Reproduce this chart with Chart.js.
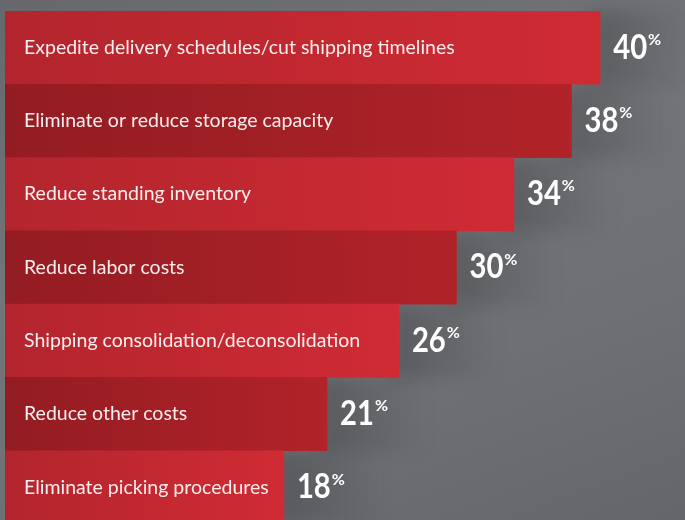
<!DOCTYPE html>
<html>
<head>
<meta charset="utf-8">
<script src="https://cdn.jsdelivr.net/npm/chart.js@4/dist/chart.umd.min.js"></script>
<style>
  html, body { margin: 0; padding: 0; }
  body {
    width: 685px; height: 520px; overflow: hidden;
    background: linear-gradient(160deg, #66686c 0%, #737579 40%, #6e7074 70%, #64666a 100%);
  }
  #wrap { width: 685px; height: 520px; overflow: hidden; position: relative; }
</style>
</head>
<body>
<div id="wrap"><canvas id="chart" width="685" height="535"></canvas></div>
<script>
// ── data ─────────────────────────────────────────────
const categories = [
    'Expedite delivery schedules/cut shipping timelines',
    'Eliminate or reduce storage capacity',
    'Reduce standing inventory',
    'Reduce labor costs',
    'Shipping consolidation/deconsolidation',
    'Reduce other costs',
    'Eliminate picking procedures'
];
const values = [40, 38, 34, 30, 26, 21, 18];

// axis range (bars start at the left edge of the plot)
const AXIS_MIN = -1.4;
const AXIS_MAX = 45.9;

// alternating bar shades: [left, right]
const lightRed = ['#b3252d', '#d02b34'];
const darkRed = ['#931c22', '#b12329'];

function barFill(ctx) {
    const chart = ctx.chart;
    const shade = ctx.dataIndex % 2 === 0 ? lightRed : darkRed;
    if (!chart.chartArea || ctx.raw === undefined) return shade[1];
    const x0 = chart.scales.x.getPixelForValue(AXIS_MIN);
    const x1 = chart.scales.x.getPixelForValue(ctx.raw);
    const g = chart.ctx.createLinearGradient(x0, 0, x1, 0);
    g.addColorStop(0, shade[0]);
    g.addColorStop(1, shade[1]);
    return g;
}

// soft shadow to the right of each bar end
const shadowPlugin = {
    id: 'barShadow',
    beforeDatasetsDraw(chart) {
        const ctx = chart.ctx;
        const meta = chart.getDatasetMeta(0);
        ctx.save();
        ctx.filter = 'blur(9px)';
        meta.data.forEach(bar => {
            const top = bar.y - bar.height / 2;
            const g = ctx.createLinearGradient(bar.x, 0, bar.x + 100, 0);
            g.addColorStop(0, 'rgba(40,40,44,0.28)');
            g.addColorStop(1, 'rgba(40,40,44,0)');
            ctx.fillStyle = g;
            ctx.fillRect(bar.x - 10, top, 110, bar.height);
        });
        ctx.restore();
    }
};

// category text inside bars + value labels outside
const labelPlugin = {
    id: 'barLabels',
    afterDatasetsDraw(chart) {
        const ctx = chart.ctx;
        const meta = chart.getDatasetMeta(0);
        ctx.save();
        ctx.textBaseline = 'middle';
        ctx.textAlign = 'left';
        meta.data.forEach((bar, i) => {
            // category
            ctx.fillStyle = '#fbeeee';
            ctx.font = '19.5px Lato, "Open Sans", sans-serif';
            ctx.fillText(categories[i], 24, bar.y);

            // value (bold, slightly condensed)
            const num = String(values[i]);
            const x = bar.x + 13;
            ctx.fillStyle = '#ffffff';
            ctx.font = 'bold 34px Lato, "Open Sans", sans-serif';
            const w = ctx.measureText(num).width * 0.86;
            ctx.save();
            ctx.translate(x, bar.y);
            ctx.scale(0.86, 1);
            ctx.fillText(num, 0, 0);
            ctx.restore();
            ctx.font = 'bold 16px Lato, "Open Sans", sans-serif';
            ctx.fillText('%', x + w + 1, bar.y - 8);
        });
        ctx.restore();
    }
};

new Chart(document.getElementById('chart'), {
    type: 'bar',
    data: {
        labels: categories,
        datasets: [{
            data: values,
            base: AXIS_MIN,
            backgroundColor: barFill,
            borderWidth: 0,
            barPercentage: 1,
            categoryPercentage: 1
        }]
    },
    options: {
        indexAxis: 'y',
        responsive: false,
        animation: false,
        layout: { padding: { top: 11, bottom: 11, left: 5, right: 0 } },
        plugins: {
            legend: { display: false },
            tooltip: { enabled: false }
        },
        scales: {
            x: { display: false, min: AXIS_MIN, max: AXIS_MAX },
            y: { display: false }
        }
    },
    plugins: [shadowPlugin, labelPlugin]
});
</script>
</body>
</html>
